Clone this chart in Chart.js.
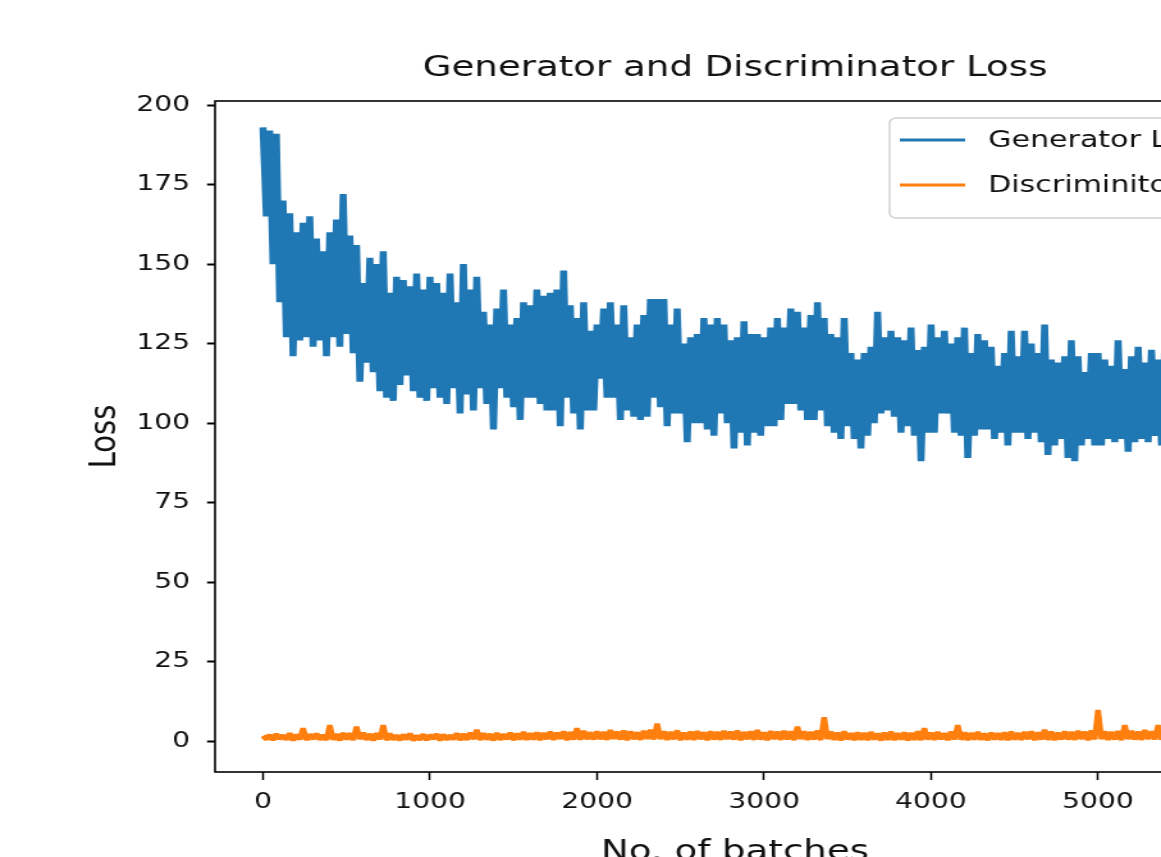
<!DOCTYPE html>
<html>
<head>
<meta charset="utf-8">
<title>Generator and Discriminator Loss</title>
<script src="https://cdn.jsdelivr.net/npm/chart.js@4.4.1/dist/chart.umd.min.js"></script>
<style>
  html, body { margin: 0; padding: 0; background: #fff; overflow: hidden; }
  #frame { position: relative; width: 1161px; height: 857px; overflow: hidden; }
  /* the reference picture is stretched sideways, so the canvas is too */
  #lossChart { position: absolute; left: 0; top: 0; transform: scaleX(1.28); transform-origin: 0 0; }
</style>
</head>
<body>
<div id="frame"><canvas id="lossChart" width="1000" height="900"></canvas></div>
<script>
const chartTitle = 'Generator and Discriminator Loss';
const xTitle = 'No. of batches';
const yTitle = 'Loss';
const seriesLabels = ['Generator Loss', 'Discriminitor Loss'];
const xTicks = [0, 1000, 2000, 3000, 4000, 5000];
const yTicks = [0, 25, 50, 75, 100, 125, 150, 175, 200];

// one sample every 20 batches: peaks at 0, 40, 80 ... and troughs at 20, 60, 100 ...
const batchStep = 20;

const genHigh = [
  193, 192, 191, 170, 166, 160, 163, 165, 158, 154,
  160, 164, 172, 159, 156, 144, 152, 150, 154, 141,
  146, 145, 143, 147, 142, 146, 144, 141, 147, 138,
  150, 142, 146, 135, 131, 136, 142, 131, 133, 138,
  137, 142, 140, 141, 142, 148, 137, 133, 138, 129,
  131, 136, 138, 131, 137, 127, 131, 134, 139, 139,
  139, 131, 136, 125, 127, 128, 133, 131, 133, 131,
  126, 127, 132, 128, 128, 127, 130, 133, 130, 136,
  135, 130, 134, 138, 133, 128, 127, 133, 122, 120,
  122, 124, 135, 127, 129, 127, 126, 130, 123, 124,
  131, 127, 129, 125, 127, 130, 122, 128, 126, 124,
  118, 122, 129, 121, 129, 125, 122, 131, 120, 119,
  121, 126, 121, 116, 122, 122, 120, 118, 126, 117,
  121, 124, 119, 123, 120, 122, 118, 124, 120, 121,
  117, 123
];
const genLow = [
  165, 150, 138, 127, 121, 126, 127, 124, 126, 121,
  127, 124, 128, 122, 113, 119, 116, 110, 108, 107,
  112, 115, 110, 108, 107, 111, 108, 106, 111, 103,
  109, 104, 111, 106, 98, 111, 108, 105, 101, 108,
  108, 106, 104, 104, 99, 108, 103, 98, 104, 104,
  114, 108, 108, 101, 104, 102, 101, 102, 108, 105,
  99, 103, 103, 94, 100, 100, 98, 96, 103, 100,
  92, 97, 93, 97, 96, 99, 99, 101, 106, 106,
  104, 101, 101, 104, 99, 97, 95, 99, 95, 92,
  96, 100, 103, 104, 102, 97, 99, 96, 88, 97,
  97, 103, 103, 97, 96, 89, 96, 98, 98, 95,
  97, 93, 97, 97, 95, 97, 94, 90, 93, 95,
  89, 88, 93, 95, 93, 93, 95, 94, 95, 91,
  94, 95, 94, 96, 93, 95, 92, 96, 94, 93,
  95, 92
];
const discHigh = [
  1.6, 1.9, 2.2, 1.8, 2.4, 2.0, 4.0, 2.1, 2.3, 1.9,
  5.0, 2.2, 2.5, 2.4, 4.5, 2.6, 2.2, 2.4, 5.0, 2.3,
  1.8, 2.0, 2.3, 1.7, 2.1, 1.9, 2.2, 2.0, 1.8, 2.4,
  2.2, 2.6, 3.5, 2.4, 2.2, 2.5, 2.1, 2.6, 2.3, 2.8,
  2.4, 2.7, 2.5, 2.9, 2.6, 3.0, 2.8, 4.0, 3.2, 2.7,
  3.0, 2.8, 3.4, 2.9, 3.3, 3.0, 2.7, 3.2, 3.5, 5.5,
  3.0, 2.8, 3.3, 2.6, 2.9, 3.1, 2.7, 3.0, 2.8, 3.2,
  2.9, 3.3, 2.8, 3.0, 3.4, 2.7, 3.1, 2.9, 3.2, 3.0,
  4.5, 3.0, 2.8, 3.3, 7.5, 2.9, 2.6, 3.0, 2.4, 2.7,
  2.5, 2.8, 2.3, 2.6, 2.9, 2.4, 2.7, 2.5, 3.0, 4.0,
  2.6, 2.8, 2.4, 2.9, 5.0, 2.7, 2.5, 2.8, 2.3, 2.6,
  2.4, 2.7, 2.9, 2.5, 2.8, 3.0, 2.7, 3.5, 2.9, 2.6,
  3.0, 2.8, 3.2, 2.9, 3.3, 9.8, 3.0, 2.8, 3.1, 5.0,
  3.2, 2.9, 3.4, 3.0, 5.0, 3.1, 2.8, 3.3, 3.0, 3.2,
  2.9, 3.4
];
const discLow = [
  0.5, 0.3, 0.6, 0.4, 0.2, 0.5, 0.3, 0.6, 0.4, 0.3,
  0.4, 0.2, 0.5, 0.3, 0.6, 0.4, 0.2, 0.5, 0.3, 0.4,
  0.3, 0.5, 0.2, 0.4, 0.3, 0.6, 0.2, 0.4, 0.5, 0.3,
  0.4, 0.6, 0.3, 0.5, 0.2, 0.4, 0.6, 0.3, 0.5, 0.4,
  0.5, 0.3, 0.6, 0.4, 0.7, 0.3, 0.5, 0.4, 0.6, 0.5,
  0.6, 0.4, 0.7, 0.5, 0.3, 0.6, 0.4, 0.7, 0.5, 0.6,
  0.4, 0.6, 0.3, 0.5, 0.4, 0.6, 0.3, 0.5, 0.4, 0.6,
  0.5, 0.3, 0.6, 0.4, 0.5, 0.3, 0.6, 0.4, 0.5, 0.3,
  0.6, 0.4, 0.5, 0.3, 0.6, 0.4, 0.2, 0.5, 0.3, 0.4,
  0.3, 0.5, 0.2, 0.4, 0.3, 0.5, 0.2, 0.4, 0.3, 0.5,
  0.4, 0.6, 0.3, 0.5, 0.4, 0.3, 0.5, 0.4, 0.3, 0.5,
  0.4, 0.3, 0.5, 0.4, 0.6, 0.3, 0.5, 0.4, 0.3, 0.5,
  0.5, 0.4, 0.6, 0.3, 0.5, 0.6, 0.4, 0.5, 0.3, 0.6,
  0.5, 0.4, 0.6, 0.5, 0.4, 0.6, 0.3, 0.5, 0.4, 0.6,
  0.5, 0.4
];

const FONT = '"DejaVu Sans", "Liberation Sans", sans-serif';
const INK = '#111';

// peaks and troughs alternate along the batch axis
function toPoints(high, low) {
  const pts = [];
  for (let i = 0; i < high.length; i++) {
    pts.push({ x: (2 * i) * batchStep, y: high[i] });
    pts.push({ x: (2 * i + 1) * batchStep, y: low[i] });
  }
  return pts;
}

// axes frame on all four sides, title over the plot, matplotlib-style legend box
const frameAndLegend = {
  id: 'frameAndLegend',
  afterDatasetsDraw(chart) {
    const { ctx, chartArea: a } = chart;
    ctx.save();
    ctx.strokeStyle = '#000';
    ctx.lineWidth = 1.6;
    ctx.strokeRect(a.left, a.top, a.right - a.left, a.bottom - a.top);
    ctx.restore();
  },
  afterDraw(chart) {
    const { ctx, chartArea: a } = chart;
    const sets = chart.data.datasets;
    ctx.save();

    ctx.fillStyle = INK;
    ctx.font = '29px ' + FONT;
    ctx.textAlign = 'center';
    ctx.textBaseline = 'middle';
    ctx.fillText(chartTitle, (a.left + a.right) / 2, 68);

    ctx.textAlign = 'left';
    ctx.font = '23.5px ' + FONT;
    const textW = Math.max(...sets.map(d => ctx.measureText(d.label).width));
    const left = 695, top = 118, rowH = 45;
    const width = (772 - left) + textW + 10;
    const height = 100;
    ctx.fillStyle = 'rgba(255,255,255,0.85)';
    ctx.strokeStyle = '#cfcfcf';
    ctx.lineWidth = 1.4;
    ctx.beginPath();
    ctx.roundRect(left, top, width, height, 5);
    ctx.fill();
    ctx.stroke();
    sets.forEach((d, i) => {
      const y = 140 + i * rowH;
      ctx.strokeStyle = d.borderColor;
      ctx.lineWidth = 3;
      ctx.beginPath();
      ctx.moveTo(703, y);
      ctx.lineTo(754, y);
      ctx.stroke();
      ctx.fillStyle = INK;
      ctx.textBaseline = 'middle';
      ctx.fillText(d.label, 772, y + 1);
    });
    ctx.restore();
  }
};

const canvas = document.getElementById('lossChart');

new Chart(canvas, {
  type: 'line',
  data: {
    datasets: [{
      label: seriesLabels[0],
      data: toPoints(genHigh, genLow),
      borderColor: '#1f77b4',
      borderWidth: 5.5,
      borderJoinStyle: 'bevel',
      pointRadius: 0,
      tension: 0,
      fill: false
    }, {
      label: seriesLabels[1],
      data: toPoints(discHigh, discLow),
      borderColor: '#ff7f0e',
      borderWidth: 4.5,
      borderJoinStyle: 'bevel',
      pointRadius: 0,
      tension: 0,
      fill: false
    }]
  },
  options: {
    responsive: false,
    animation: false,
    devicePixelRatio: 1,
    layout: { padding: { left: 0, right: 19.5, top: 101, bottom: 0 } },
    plugins: {
      legend: { display: false },
      tooltip: { enabled: false },
      title: { display: false }
    },
    scales: {
      x: {
        type: 'linear',
        min: -287,
        max: 5940,
        afterBuildTicks: s => { s.ticks = xTicks.map(v => ({ value: v })); },
        afterFit: s => { s.height = 128; },
        border: { display: false },
        grid: { drawOnChartArea: false, drawTicks: true, tickLength: 8, tickWidth: 1.5, tickColor: '#000' },
        ticks: {
          padding: 9, color: INK, autoSkip: false, maxRotation: 0,
          font: { family: FONT, size: 22 },
          callback: v => String(v)
        },
        title: {
          display: true, text: xTitle, color: INK,
          font: { family: FONT, size: 29 },
          padding: { top: 0, bottom: 30 }
        }
      },
      y: {
        min: -9.75,
        max: 201.3,
        afterBuildTicks: s => { s.ticks = yTicks.map(v => ({ value: v })); },
        afterFit: s => { s.width = 168; },
        border: { display: false },
        grid: { drawOnChartArea: false, drawTicks: true, tickLength: 6.25, tickWidth: 2, tickColor: '#000' },
        ticks: {
          padding: 13.3, color: INK, autoSkip: false,
          font: { family: FONT, size: 22 },
          callback: v => String(v)
        },
        title: {
          display: true, text: yTitle, color: INK,
          font: { family: FONT, size: 29 },
          padding: { top: 65, bottom: 0 }
        }
      }
    }
  },
  plugins: [frameAndLegend]
});
</script>
</body>
</html>
